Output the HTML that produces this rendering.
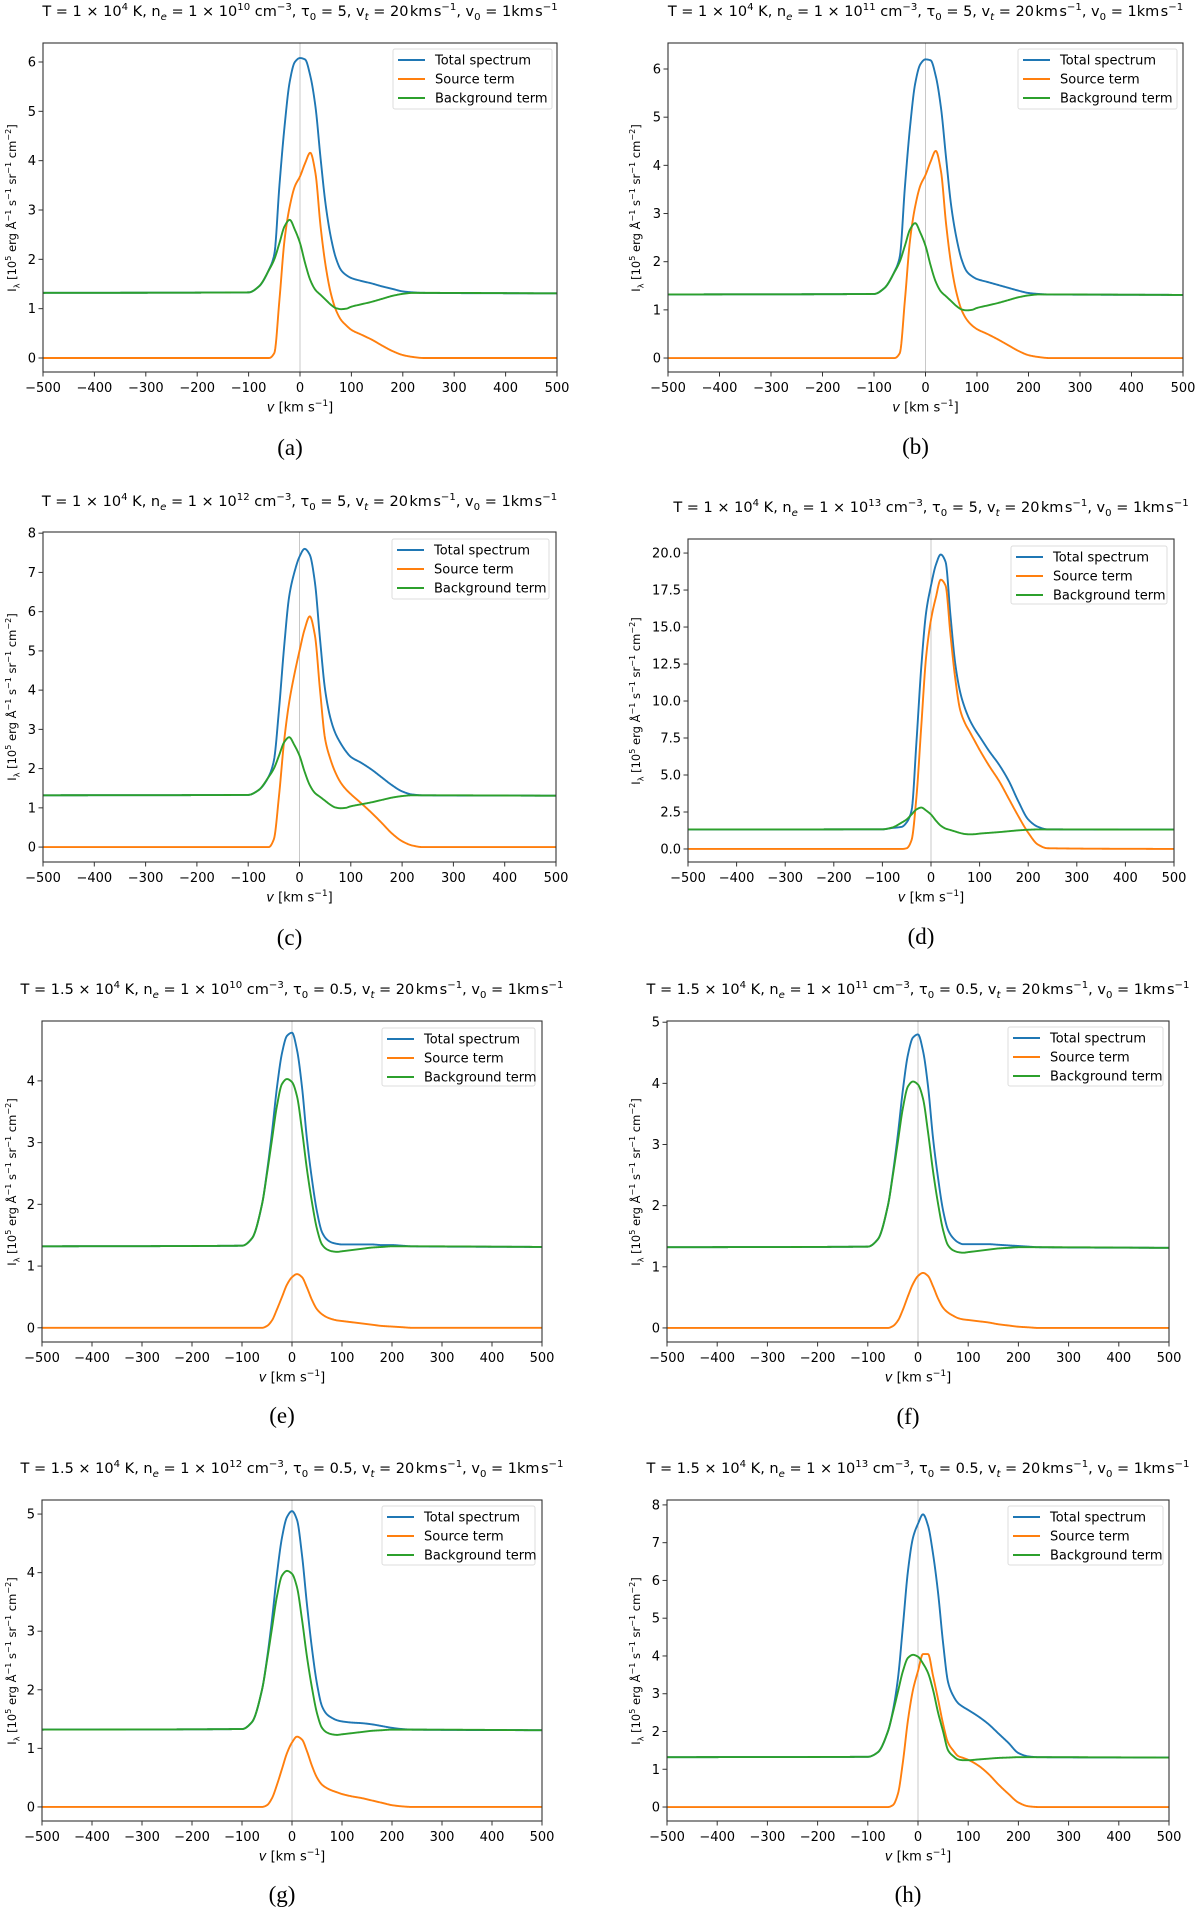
<!DOCTYPE html>
<html><head><meta charset="utf-8">
<style>
body{margin:0;background:#fff;}
#wrap{position:relative;width:1200px;height:1913px;overflow:hidden;background:#fff;font-family:"DejaVu Sans","Liberation Sans",sans-serif;color:#000;}
.title{position:absolute;white-space:nowrap;font-size:14.5px;transform:translate(-50%,-50%);}
.ylab{position:absolute;white-space:nowrap;font-size:11.5px;transform:translate(-50%,-50%) rotate(-90deg);}
.xlab{position:absolute;white-space:nowrap;font-size:13px;transform:translate(-50%,-50%);}
.plabel{position:absolute;font-family:"Liberation Serif",serif;font-size:23px;transform:translate(-50%,-50%);}
sup,sub{font-size:70%;line-height:0;}
svg{position:absolute;left:0;top:0;}
</style></head><body>
<div id="wrap">
<svg id="svg" width="1200" height="1913"></svg>
</div>
<script>
// shared velocity grid (km/s)
const V = [-500,-100,-80,-60,-50,-40,-30,-20,-10,0,10,20,30,40,50,60,70,80,90,100,120,140,160,180,200,220,240,500];
const xTicks = [-500,-400,-300,-200,-100,0,100,200,300,400,500];
const xTickLabels = ["\u2212500","\u2212400","\u2212300","\u2212200","\u2212100","0","100","200","300","400","500"];
const seriesNames = ["Total spectrum","Source term","Background term"];

// panel (a)
const totA = [1.32,1.33,1.45,1.8,2.1,3.5,4.7,5.6,6.0,6.08,6.05,5.72,5.1,4.05,3.1,2.45,2.02,1.78,1.68,1.62,1.56,1.51,1.45,1.4,1.35,1.33,1.32,1.31];
const srcA = [0,0,0,0,0.1,1.18,2.4,3.07,3.48,3.68,3.95,4.16,3.75,2.67,1.86,1.31,0.97,0.77,0.66,0.57,0.47,0.37,0.25,0.14,0.06,0.02,0,0];
const bgA  = [1.32,1.33,1.45,1.79,2.0,2.33,2.67,2.8,2.6,2.33,1.92,1.58,1.38,1.28,1.18,1.08,1.01,0.99,1.0,1.04,1.09,1.14,1.2,1.26,1.3,1.32,1.32,1.31];
// panel (b)
const totB = [1.32,1.33,1.45,1.8,2.1,3.55,4.8,5.7,6.1,6.2,6.18,5.85,5.2,4.15,3.15,2.5,2.05,1.8,1.7,1.64,1.58,1.52,1.46,1.4,1.35,1.33,1.32,1.31];
const srcB = [0,0,0,0,0.1,1.2,2.45,3.15,3.58,3.8,4.08,4.3,3.88,2.78,1.93,1.36,1.0,0.8,0.68,0.6,0.5,0.39,0.27,0.15,0.06,0.02,0,0];
const bgB  = [1.32,1.33,1.45,1.79,2.0,2.33,2.67,2.8,2.6,2.33,1.92,1.58,1.38,1.28,1.18,1.08,1.01,0.99,1.0,1.04,1.09,1.14,1.2,1.26,1.3,1.32,1.32,1.31];
// panel (c)
const totC = [1.32,1.33,1.45,1.8,2.2,3.5,5.1,6.4,7.0,7.4,7.6,7.45,6.75,5.3,4.0,3.3,2.9,2.65,2.45,2.3,2.15,1.98,1.78,1.58,1.42,1.34,1.32,1.31];
const srcC = [0,0,0,0,0.2,1.3,2.7,3.7,4.4,5.0,5.55,5.88,5.4,4.0,2.75,2.25,1.9,1.65,1.48,1.35,1.12,0.88,0.62,0.35,0.15,0.04,0,0];
const bgC  = [1.32,1.33,1.45,1.79,2.0,2.33,2.67,2.8,2.6,2.33,1.92,1.58,1.38,1.28,1.18,1.08,1.01,0.99,1.0,1.04,1.09,1.14,1.2,1.26,1.3,1.32,1.32,1.31];
// panel (d)
const totD = [1.32,1.33,1.42,1.5,1.8,2.6,7.2,12.3,16,17.8,19.2,19.9,19.4,15.8,12.5,10.6,9.5,8.7,8.1,7.6,6.6,5.7,4.6,3.2,2.0,1.5,1.33,1.31];
const srcD = [0,0,0,0,0.05,0.6,3.5,8.3,13,15.5,17,18.2,17.8,14.5,11.5,9.4,8.5,7.9,7.3,6.7,5.6,4.6,3.4,2.2,1.1,0.3,0.05,0];
const bgD  = [1.32,1.33,1.45,1.79,2.0,2.33,2.67,2.8,2.6,2.33,1.92,1.58,1.38,1.28,1.18,1.08,1.01,0.99,1.0,1.04,1.09,1.14,1.2,1.26,1.3,1.32,1.32,1.31];
// panel (e)
const totE = [1.32,1.33,1.45,2.0,2.53,3.17,3.9,4.45,4.73,4.78,4.5,3.9,3.05,2.4,1.88,1.55,1.43,1.38,1.36,1.35,1.35,1.35,1.35,1.34,1.34,1.33,1.32,1.31];
const srcE = [0,0,0,0,0.03,0.12,0.3,0.5,0.7,0.82,0.87,0.82,0.65,0.45,0.3,0.22,0.17,0.14,0.12,0.11,0.09,0.07,0.05,0.03,0.02,0.01,0,0];
const bgE  = [1.32,1.33,1.45,2.0,2.5,3.05,3.6,3.95,4.03,3.98,3.75,3.2,2.56,2.03,1.6,1.35,1.27,1.24,1.23,1.24,1.26,1.28,1.3,1.31,1.32,1.32,1.32,1.31];
// panel (f)
const totF = [1.32,1.33,1.45,2.0,2.53,3.17,3.9,4.47,4.75,4.8,4.53,3.95,3.1,2.45,1.92,1.6,1.47,1.4,1.37,1.37,1.37,1.37,1.36,1.35,1.34,1.33,1.32,1.31];
const srcF = [0,0,0,0,0.03,0.12,0.3,0.52,0.72,0.85,0.9,0.85,0.68,0.48,0.33,0.25,0.2,0.16,0.14,0.13,0.11,0.09,0.06,0.04,0.02,0.01,0,0];
const bgF  = [1.32,1.33,1.45,2.0,2.5,3.05,3.6,3.95,4.03,3.98,3.75,3.2,2.56,2.03,1.6,1.35,1.27,1.24,1.23,1.24,1.26,1.28,1.3,1.31,1.32,1.32,1.32,1.31];
// panel (g)
const totG = [1.32,1.33,1.45,2.0,2.53,3.2,3.98,4.6,4.95,5.05,4.9,4.3,3.45,2.7,2.1,1.72,1.58,1.52,1.48,1.46,1.44,1.43,1.41,1.38,1.35,1.33,1.32,1.31];
const srcG = [0,0,0,0,0.03,0.15,0.38,0.65,0.92,1.1,1.2,1.15,0.95,0.7,0.5,0.38,0.32,0.28,0.25,0.22,0.18,0.15,0.11,0.07,0.03,0.01,0,0];
const bgG  = [1.32,1.33,1.45,2.0,2.5,3.05,3.6,3.95,4.03,3.98,3.75,3.2,2.56,2.03,1.6,1.35,1.27,1.24,1.23,1.24,1.26,1.28,1.3,1.31,1.32,1.32,1.32,1.31];
// panel (h)
const totH = [1.32,1.33,1.45,2.0,2.55,3.4,4.8,6.25,7.13,7.5,7.75,7.45,6.7,5.67,4.34,3.3,2.95,2.75,2.65,2.57,2.4,2.2,1.95,1.7,1.43,1.34,1.32,1.31];
const srcH = [0,0,0,0,0.05,0.35,1.2,2.3,3.1,3.6,4.05,4.05,3.47,2.85,2.2,1.7,1.5,1.35,1.3,1.25,1.1,0.88,0.6,0.35,0.12,0.02,0,0];
const bgH  = [1.32,1.33,1.45,2.0,2.5,3.05,3.6,3.95,4.03,3.98,3.8,3.55,3.1,2.5,2.0,1.5,1.35,1.26,1.24,1.24,1.26,1.28,1.3,1.31,1.32,1.32,1.32,1.31];

const yTicksInt6 = [0,1,2,3,4,5,6];
const yTicksInt8 = [0,1,2,3,4,5,6,7,8];
const yTicksD = [0,2.5,5,7.5,10,12.5,15,17.5,20];
const yTicksInt4 = [0,1,2,3,4];
const yTicksInt5 = [0,1,2,3,4,5];

const colors = ["#1f77b4","#ff7f0e","#2ca02c"];
const NS = "http://www.w3.org/2000/svg";
const svg = document.getElementById("svg");
const wrap = document.getElementById("wrap");
const FONT = "DejaVu Sans, Liberation Sans, sans-serif";

const titleTpl = (T, n, tau) => `T = ${T} × 10<sup>4</sup> K, n<sub><i>e</i></sub> = 1 × 10<sup>${n}</sup> cm<sup>−3</sup>, τ<sub>0</sub> = ${tau}, v<sub><i>t</i></sub> = 20&#8202;km&#8202;s<sup>−1</sup>, v<sub>0</sub> = 1km&#8202;s<sup>−1</sup>`;

const panels = [
 {id:"a",L:43,R:557,T:43,B:372,ymin:-0.284,ymax:6.385,yt:yTicksInt6,dec:0,leg:[393,49,552,109],ty:12,ly:448,yx:12,title:titleTpl("1",10,5),s:[totA,srcA,bgA]},
 {id:"b",L:668,R:1183,T:43,B:372,ymin:-0.29,ymax:6.54,yt:yTicksInt6,dec:0,leg:[1018,49,1177,109],ty:12,ly:447,yx:636,title:titleTpl("1",11,5),s:[totB,srcB,bgB]},
 {id:"c",L:43,R:556,T:532,B:862,ymin:-0.38,ymax:8.03,yt:yTicksInt8,dec:0,leg:[392,539,549,599],ty:502,ly:938,yx:12,title:titleTpl("1",12,5),s:[totC,srcC,bgC]},
 {id:"d",L:688,R:1174,T:539,B:862,ymin:-0.88,ymax:20.95,yt:yTicksD,dec:1,leg:[1011,546,1167,604],ty:508,ly:937,yx:636,title:titleTpl("1",13,5),s:[totD,srcD,bgD]},
 {id:"e",L:42,R:542,T:1021,B:1342,ymin:-0.23,ymax:4.97,yt:yTicksInt4,dec:0,leg:[382,1028,535,1086],ty:990,ly:1416,yx:12,title:titleTpl("1.5",10,"0.5"),s:[totE,srcE,bgE]},
 {id:"f",L:667,R:1169,T:1021,B:1342,ymin:-0.23,ymax:5.02,yt:yTicksInt5,dec:0,leg:[1008,1027,1163,1086],ty:990,ly:1417,yx:636,title:titleTpl("1.5",11,"0.5"),s:[totF,srcF,bgF]},
 {id:"g",L:42,R:542,T:1500,B:1821,ymin:-0.24,ymax:5.24,yt:yTicksInt5,dec:0,leg:[382,1506,535,1565],ty:1469,ly:1895,yx:12,title:titleTpl("1.5",12,"0.5"),s:[totG,srcG,bgG]},
 {id:"h",L:667,R:1169,T:1500,B:1821,ymin:-0.37,ymax:8.13,yt:yTicksInt8,dec:0,leg:[1008,1506,1163,1565],ty:1469,ly:1895,yx:636,title:titleTpl("1.5",13,"0.5"),s:[totH,srcH,bgH]}
];

function el(tag, attrs, parent){
  const e = document.createElementNS(NS, tag);
  for (const k in attrs) e.setAttribute(k, attrs[k]);
  (parent||svg).appendChild(e);
  return e;
}

function monotone(xs, ys){
  const n = xs.length, d = [], m = new Array(n);
  for (let i=0;i<n-1;i++) d.push((ys[i+1]-ys[i])/(xs[i+1]-xs[i]));
  m[0]=d[0]; m[n-1]=d[n-2];
  for (let i=1;i<n-1;i++){
    if (d[i-1]*d[i]<=0) m[i]=0;
    else { const w1=2*(xs[i+1]-xs[i])+(xs[i]-xs[i-1]), w2=(xs[i+1]-xs[i])+2*(xs[i]-xs[i-1]);
      m[i]=(w1+w2)/(w1/d[i-1]+w2/d[i]); }
  }
  return function(x){
    let i=0; while(i<n-2 && x>xs[i+1]) i++;
    const h=xs[i+1]-xs[i], t=(x-xs[i])/h, t2=t*t, t3=t2*t;
    return (2*t3-3*t2+1)*ys[i]+(t3-2*t2+t)*h*m[i]+(-2*t3+3*t2)*ys[i+1]+(t3-t2)*h*m[i+1];
  };
}

panels.forEach(p=>{
  const g = el("g",{});
  
  
  const xs = v => p.L + (v+500)/1000*(p.R-p.L);
  const ys = y => p.B - (y-p.ymin)/(p.ymax-p.ymin)*(p.B-p.T);
  const clipId = "clip"+p.id;
  const cp = el("clipPath",{id:clipId},g);
  el("rect",{x:p.L,y:p.T,width:p.R-p.L,height:p.B-p.T},cp);

  const zl = el("line",{x1:xs(0),x2:xs(0),y1:p.T,y2:p.B,stroke:"#c8c8c8","stroke-width":1},g);
  
  

  p.s.forEach((arr,si)=>{
    const f = monotone(V, arr);
    let d = "";
    for (let v=-500; v<=500; v+=1){
      d += (v===-500?"M":"L")+xs(v).toFixed(2)+","+ys(f(v)).toFixed(2);
    }
    const path = el("path",{d:d,fill:"none",stroke:colors[si],"stroke-width":1.9,"clip-path":"url(#"+clipId+")","stroke-linejoin":"round"},g);
    
    
  });

  const fr = el("rect",{x:p.L,y:p.T,width:p.R-p.L,height:p.B-p.T,fill:"none",stroke:"#333","stroke-width":1.1},g);
  
  

  xTicks.forEach((t,i)=>{
    const x = xs(t);
    el("line",{x1:x,x2:x,y1:p.B,y2:p.B+4.5,stroke:"#333","stroke-width":1},g);
    const tx = el("text",{x:x,y:p.B+20,"text-anchor":"middle","font-size":"13","font-family":FONT},g);
    tx.textContent = xTickLabels[i];
    
    
  });
  p.yt.forEach(t=>{
    const y = ys(t);
    el("line",{x1:p.L-4.5,x2:p.L,y1:y,y2:y,stroke:"#333","stroke-width":1},g);
    const ty = el("text",{x:p.L-7,y:y+4.5,"text-anchor":"end","font-size":"13","font-family":FONT},g);
    ty.textContent = t.toFixed(p.dec);
    
    
  });

  const [lx,ly,lx2,ly2] = p.leg;
  const lg = el("g",{},g);
  
  
  el("rect",{x:lx,y:ly,width:lx2-lx,height:ly2-ly,fill:"#fff","fill-opacity":0.85,stroke:"#ddd","stroke-width":1,rx:2},lg);
  seriesNames.forEach((nm,i)=>{
    const yy = ly + 11 + i*19;
    const ln = el("line",{x1:lx+5,x2:lx+32,y1:yy,y2:yy,stroke:colors[i],"stroke-width":1.9},lg);
    
    
    const lt = el("text",{x:lx+42,y:yy+4.5,"font-size":"13","font-family":FONT},lg);
    lt.textContent = nm;
    
    
  });

  const cx = (p.L+p.R)/2;
  const td = document.createElement("div");
  td.className="title"; td.style.left=cx+"px"; td.style.top=p.ty+"px"; td.innerHTML=p.title;
  
  
  wrap.appendChild(td);
  const yl = document.createElement("div");
  yl.className="ylab"; yl.style.left=p.yx+"px"; yl.style.top=((p.T+p.B)/2)+"px";
  yl.innerHTML = "I<sub>λ</sub> [10<sup>5</sup> erg Å<sup>−1</sup> s<sup>−1</sup> sr<sup>−1</sup> cm<sup>−2</sup>]";
  
  
  wrap.appendChild(yl);
  const xl = document.createElement("div");
  xl.className="xlab"; xl.style.left=cx+"px"; xl.style.top=(p.B+36)+"px";
  xl.innerHTML = "<i>v</i> [km s<sup>−1</sup>]";
  
  
  wrap.appendChild(xl);
  const pl = document.createElement("div");
  pl.className="plabel"; pl.style.left=(cx-10)+"px"; pl.style.top=p.ly+"px";
  pl.textContent = "("+p.id+")";
  
  
  wrap.appendChild(pl);
});
</script>
</body></html>
